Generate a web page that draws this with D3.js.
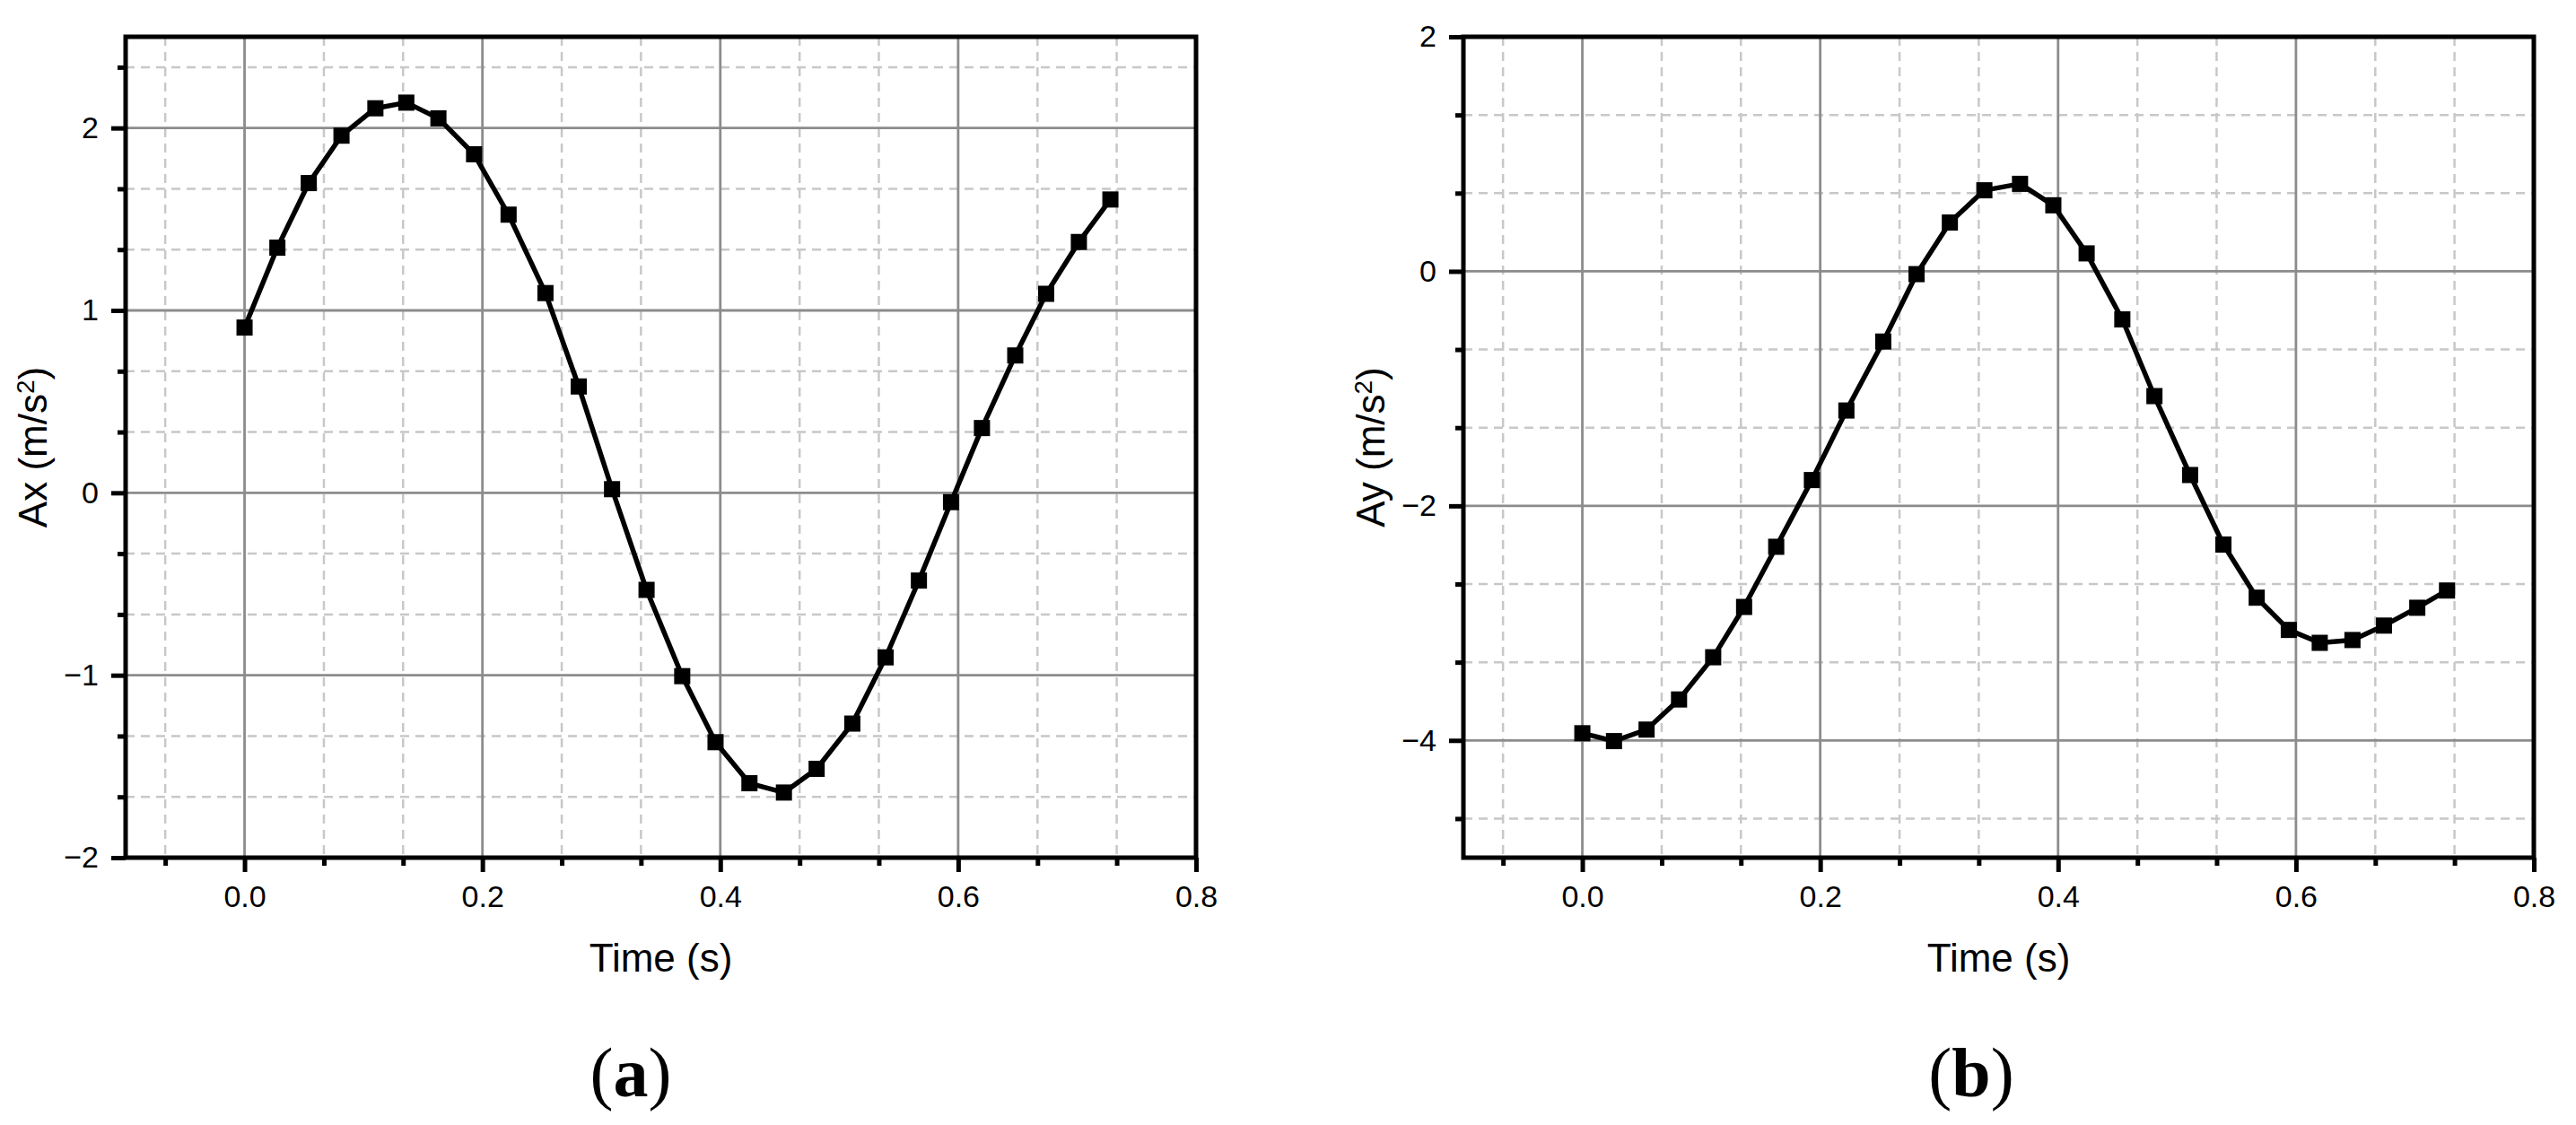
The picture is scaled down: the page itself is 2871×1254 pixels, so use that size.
<!DOCTYPE html>
<html>
<head>
<meta charset="utf-8">
<script src="https://cdn.jsdelivr.net/npm/d3@7"></script>
<style>
  html, body { margin: 0; padding: 0; background: #fff; }
  svg { display: block; }
</style>
</head>
<body>
<svg id="chart" width="2871" height="1254"></svg>
<script>
// ---------------- data ----------------
const timeA = [0, 0.0276, 0.054, 0.0815, 0.110, 0.136, 0.163, 0.193, 0.222, 0.253, 0.281, 0.309, 0.338, 0.368, 0.396, 0.4245, 0.4535, 0.481, 0.511, 0.539, 0.567, 0.594, 0.620, 0.648, 0.674, 0.7015, 0.728];
const axValues = [0.906, 1.344, 1.698, 1.958, 2.108, 2.139, 2.053, 1.856, 1.525, 1.095, 0.583, 0.020, -0.532, -1.005, -1.367, -1.592, -1.643, -1.513, -1.265, -0.902, -0.481, -0.051, 0.355, 0.753, 1.091, 1.375, 1.608];

const timeB = [0, 0.0266, 0.054, 0.0813, 0.110, 0.136, 0.163, 0.193, 0.222, 0.253, 0.281, 0.309, 0.338, 0.368, 0.396, 0.424, 0.454, 0.481, 0.511, 0.539, 0.567, 0.594, 0.620, 0.6475, 0.674, 0.702, 0.727];
const ayValues = [-3.939, -4.006, -3.908, -3.651, -3.291, -2.862, -2.349, -1.780, -1.187, -0.599, -0.024, 0.416, 0.691, 0.746, 0.563, 0.153, -0.410, -1.064, -1.737, -2.330, -2.783, -3.058, -3.168, -3.144, -3.021, -2.869, -2.722];

const xDomain = [-0.1, 0.8];
const xMajorTicks = [0.0, 0.2, 0.4, 0.6, 0.8];
const xMinorTicks = [-0.0667, 0.0667, 0.1333, 0.2667, 0.3333, 0.4667, 0.5333, 0.6667, 0.7333];

const axDomain = [-2, 2.5];
const axMajorTicks = [-2, -1, 0, 1, 2];
const axMinorTicks = [-1.6667, -1.3333, -0.6667, -0.3333, 0.3333, 0.6667, 1.3333, 1.6667, 2.3333];

const ayDomain = [-5, 2];
const ayMajorTicks = [-4, -2, 0, 2];
const ayMinorTicks = [-4.6667, -3.3333, -2.6667, -1.3333, -0.6667, 0.6667, 1.3333];

const xTitle = "Time (s)";
const panelLabels = ["a", "b"];

// ---------------- drawing ----------------
const svg = d3.select("#chart");
const SANS = "'Liberation Sans', Arial, sans-serif";
const SERIF = "'Liberation Serif', 'Times New Roman', serif";
const minus = s => s.replace("-", "\u2212");

function panel(opts) {
  const { left, right, top, bottom, xs, ys, yDomain, yMajor, yMinor, yName, label, labelX } = opts;
  const x = d3.scaleLinear().domain(xDomain).range([left, right]);
  const y = d3.scaleLinear().domain(yDomain).range([bottom, top]);
  const g = svg.append("g");

  // minor dashed grid
  g.append("g").selectAll("line.vminor").data(xMinorTicks).join("line")
    .attr("x1", d => x(d)).attr("x2", d => x(d)).attr("y1", top).attr("y2", bottom)
    .attr("stroke", "#c8c8c8").attr("stroke-width", 2.5).attr("stroke-dasharray", "10,7");
  g.append("g").selectAll("line.hminor").data(yMinor).join("line")
    .attr("y1", d => y(d)).attr("y2", d => y(d)).attr("x1", left).attr("x2", right)
    .attr("stroke", "#c8c8c8").attr("stroke-width", 2.5).attr("stroke-dasharray", "10,7");
  // major solid grid
  g.append("g").selectAll("line.vmajor").data(xMajorTicks).join("line")
    .attr("x1", d => x(d)).attr("x2", d => x(d)).attr("y1", top).attr("y2", bottom)
    .attr("stroke", "#8c8c8c").attr("stroke-width", 2.8);
  g.append("g").selectAll("line.hmajor").data(yMajor).join("line")
    .attr("y1", d => y(d)).attr("y2", d => y(d)).attr("x1", left).attr("x2", right)
    .attr("stroke", "#8c8c8c").attr("stroke-width", 2.8);

  // axes: ticks
  const xAxisMaj = d3.axisBottom(x).tickValues(xMajorTicks).tickSize(16).tickPadding(15)
    .tickFormat(d3.format(".1f"));
  const xAxisMin = d3.axisBottom(x).tickValues(xMinorTicks).tickSize(9).tickFormat("");
  const yAxisMaj = d3.axisLeft(y).tickValues(yMajor).tickSize(16).tickPadding(14)
    .tickFormat(d => minus(d3.format("d")(d)));
  const yAxisMin = d3.axisLeft(y).tickValues(yMinor).tickSize(9).tickFormat("");

  function style(sel) {
    sel.select(".domain").remove();
    sel.selectAll(".tick line").attr("stroke", "#000").attr("stroke-width", 5);
    sel.selectAll(".tick text").attr("fill", "#000").style("font-family", SANS).style("font-size", "34px");
  }
  g.append("g").attr("transform", `translate(0,${bottom})`).call(xAxisMin).call(style);
  g.append("g").attr("transform", `translate(0,${bottom})`).call(xAxisMaj).call(style);
  g.append("g").attr("transform", `translate(${left},0)`).call(yAxisMin).call(style);
  g.append("g").attr("transform", `translate(${left},0)`).call(yAxisMaj).call(style);

  // frame
  g.append("rect").attr("x", left).attr("y", top).attr("width", right - left).attr("height", bottom - top)
    .attr("fill", "none").attr("stroke", "#000").attr("stroke-width", 5);

  // series
  const pts = xs.map((t, i) => [t, ys[i]]);
  g.append("path").datum(pts)
    .attr("d", d3.line().x(d => x(d[0])).y(d => y(d[1])))
    .attr("fill", "none").attr("stroke", "#000").attr("stroke-width", 5.5).attr("stroke-linejoin", "round");
  const ms = 18;
  g.append("g").selectAll("rect").data(pts).join("rect")
    .attr("x", d => x(d[0]) - ms / 2).attr("y", d => y(d[1]) - ms / 2)
    .attr("width", ms).attr("height", ms).attr("fill", "#000");

  // x title
  g.append("text").attr("x", (left + right) / 2).attr("y", 1083).attr("text-anchor", "middle")
    .style("font-family", SANS).style("font-size", "44px").attr("fill", "#000").text(xTitle);

  // y title with superscript
  const yt = g.append("text").attr("transform", `translate(${left - 88},${(top + bottom) / 2}) rotate(-90)`)
    .attr("text-anchor", "middle").style("font-family", SANS).style("font-size", "44px").attr("fill", "#000");
  yt.append("tspan").text(yName + " (m/s");
  yt.append("tspan").attr("dy", "-0.5em").style("font-size", "28px").text("2");
  yt.append("tspan").attr("dy", "0.32em").text(")");

  // panel label
  const pl = g.append("text").attr("x", labelX).attr("y", 1222).attr("text-anchor", "middle")
    .style("font-family", SERIF).style("font-size", "78px").attr("fill", "#000");
  pl.append("tspan").text("(");
  pl.append("tspan").style("font-weight", "bold").text(label);
  pl.append("tspan").text(")");
}

panel({ left: 140, right: 1333, top: 41, bottom: 956, xs: timeA, ys: axValues,
  yDomain: axDomain, yMajor: axMajorTicks, yMinor: axMinorTicks, yName: "Ax",
  label: panelLabels[0], labelX: 703 });
panel({ left: 1631, right: 2824, top: 41, bottom: 956, xs: timeB, ys: ayValues,
  yDomain: ayDomain, yMajor: ayMajorTicks, yMinor: ayMinorTicks, yName: "Ay",
  label: panelLabels[1], labelX: 2197 });
</script>
</body>
</html>
